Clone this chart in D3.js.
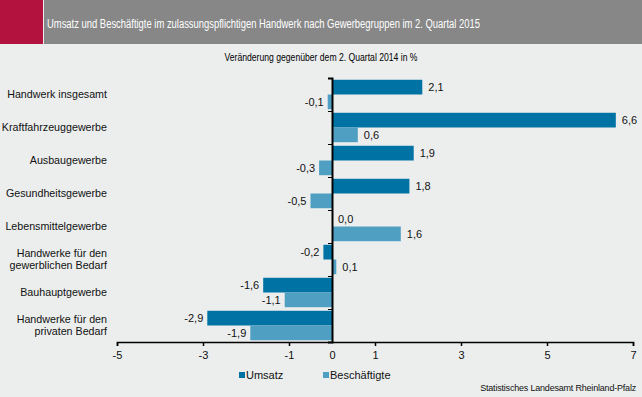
<!DOCTYPE html>
<html><head><meta charset="utf-8">
<script src="https://cdn.jsdelivr.net/npm/d3@7"></script>
<style>body{margin:0;background:#eceeee;}svg{display:block;font-family:"Liberation Sans",Arial,sans-serif;}</style>
</head><body>
<svg id="c" width="642" height="397"></svg>
<script>
const categories = [["Handwerk insgesamt"],["Kraftfahrzeuggewerbe"],["Ausbaugewerbe"],["Gesundheitsgewerbe"],["Lebensmittelgewerbe"],["Handwerke für den","gewerblichen Bedarf"],["Bauhauptgewerbe"],["Handwerke für den","privaten Bedarf"]];
const umsatz = [2.1, 6.6, 1.9, 1.8, 0.0, -0.2, -1.6, -2.9];
const beschaeftigte = [-0.1, 0.6, -0.3, -0.5, 1.6, 0.1, -1.1, -1.9];
const tickValues = [-5, -3, -1, 0, 1, 3, 5, 7];
const seriesNames = ["Umsatz", "Beschäftigte"];
const colors = ["#0072a4", "#4f9fc3"];

const svg = d3.select("#c");
svg.append("rect").attr("width",642).attr("height",397).attr("fill","#eceeee");
svg.append("rect").attr("x",0).attr("y",0).attr("width",43).attr("height",44).attr("fill","#b4123e");
svg.append("rect").attr("x",44).attr("y",0).attr("width",598).attr("height",44).attr("fill","#878787");
svg.append("text").attr("x",47).attr("y",28).attr("fill","#fff").attr("font-size",12.5)
  .attr("textLength",433).attr("lengthAdjust","spacingAndGlyphs")
  .text("Umsatz und Beschäftigte im zulassungspflichtigen Handwerk nach Gewerbegruppen im 2. Quartal 2015");
svg.append("text").attr("x",321).attr("y",61).attr("text-anchor","middle").attr("font-size",11)
  .attr("textLength",193).attr("lengthAdjust","spacingAndGlyphs")
  .text("Veränderung gegenüber dem 2. Quartal 2014 in %");

const x = d3.scaleLinear().domain([-5,7]).range([117,633]);
const y = d3.scaleBand().domain(d3.range(categories.length)).range([78,342]);
const inner = d3.scaleBand().domain([0,1]).range([0,y.bandwidth()]).paddingOuter(0.12);

const series = [umsatz, beschaeftigte];
series.forEach((vals, s) => {
  const g = svg.append("g");
  g.selectAll("rect").data(vals).join("rect")
    .attr("x", d => x(Math.min(0,d)))
    .attr("width", d => Math.abs(x(d)-x(0)))
    .attr("y", (d,i) => y(i)+inner(s))
    .attr("height", inner.bandwidth())
    .attr("fill", colors[s]);
  g.selectAll("text").data(vals).join("text")
    .attr("x", d => d < 0 ? x(d)-4 : x(d)+6)
    .attr("y", (d,i) => y(i)+inner(s)+inner.bandwidth()/2+4)
    .attr("text-anchor", d => d < 0 ? "end" : "start")
    .attr("font-size", 11).attr("fill","#111")
    .text(d => d3.format(".1f")(d).replace(".",",").replace("−","-"));
});

// category labels
const cl = svg.append("g");
categories.forEach((lines,i) => {
  const cy = y(i)+y.bandwidth()/2;
  const t = cl.append("text").attr("text-anchor","end").attr("font-size",10.7).attr("fill","#111");
  lines.forEach((ln,j) => {
    t.append("tspan").attr("x",107).attr("y", cy + 3.5 + (j - (lines.length-1)/2)*12).text(ln);
  });
});

// vertical axis
const yAxis = d3.axisLeft(d3.scaleLinear().domain([0,categories.length]).range([78,342]))
  .tickValues(d3.range(0,categories.length+1)).tickSize(4).tickFormat("");
const ya = svg.append("g").attr("transform",`translate(${x(0)},0)`).call(yAxis);
ya.select(".domain").attr("stroke","#000").attr("stroke-width",2);
ya.selectAll(".tick line").attr("stroke","#000");

// bottom axis
const xAxis = d3.axisBottom(x).tickValues(tickValues).tickSize(4).tickSizeOuter(4)
  .tickFormat(d => String(d));
const xa = svg.append("g").attr("transform","translate(0,342)").call(xAxis);
xa.select(".domain").attr("stroke","#000").attr("stroke-width",1.5);
xa.selectAll(".tick line").attr("stroke","#000").attr("stroke-width",1.5);
xa.selectAll(".tick text").attr("font-size",11).attr("fill","#111").attr("font-family","Liberation Sans, Arial, sans-serif").attr("dy","0.9em");
xa.selectAll(".tick").filter(d => d === 0).select("line").remove();

// legend
const lg = svg.append("g");
const lx = [239, 323];
seriesNames.forEach((n,i) => {
  lg.append("rect").attr("x",lx[i]).attr("y",372).attr("width",6).attr("height",6).attr("fill",colors[i]);
  lg.append("text").attr("x",lx[i]+7).attr("y",378.5).attr("font-size",11).attr("fill","#111").text(n);
});

svg.append("text").attr("x",636).attr("y",391).attr("text-anchor","end").attr("font-size",9).attr("fill","#111")
  .attr("letter-spacing",-0.2)
  .text("Statistisches Landesamt Rheinland-Pfalz");
</script>
</body></html>
